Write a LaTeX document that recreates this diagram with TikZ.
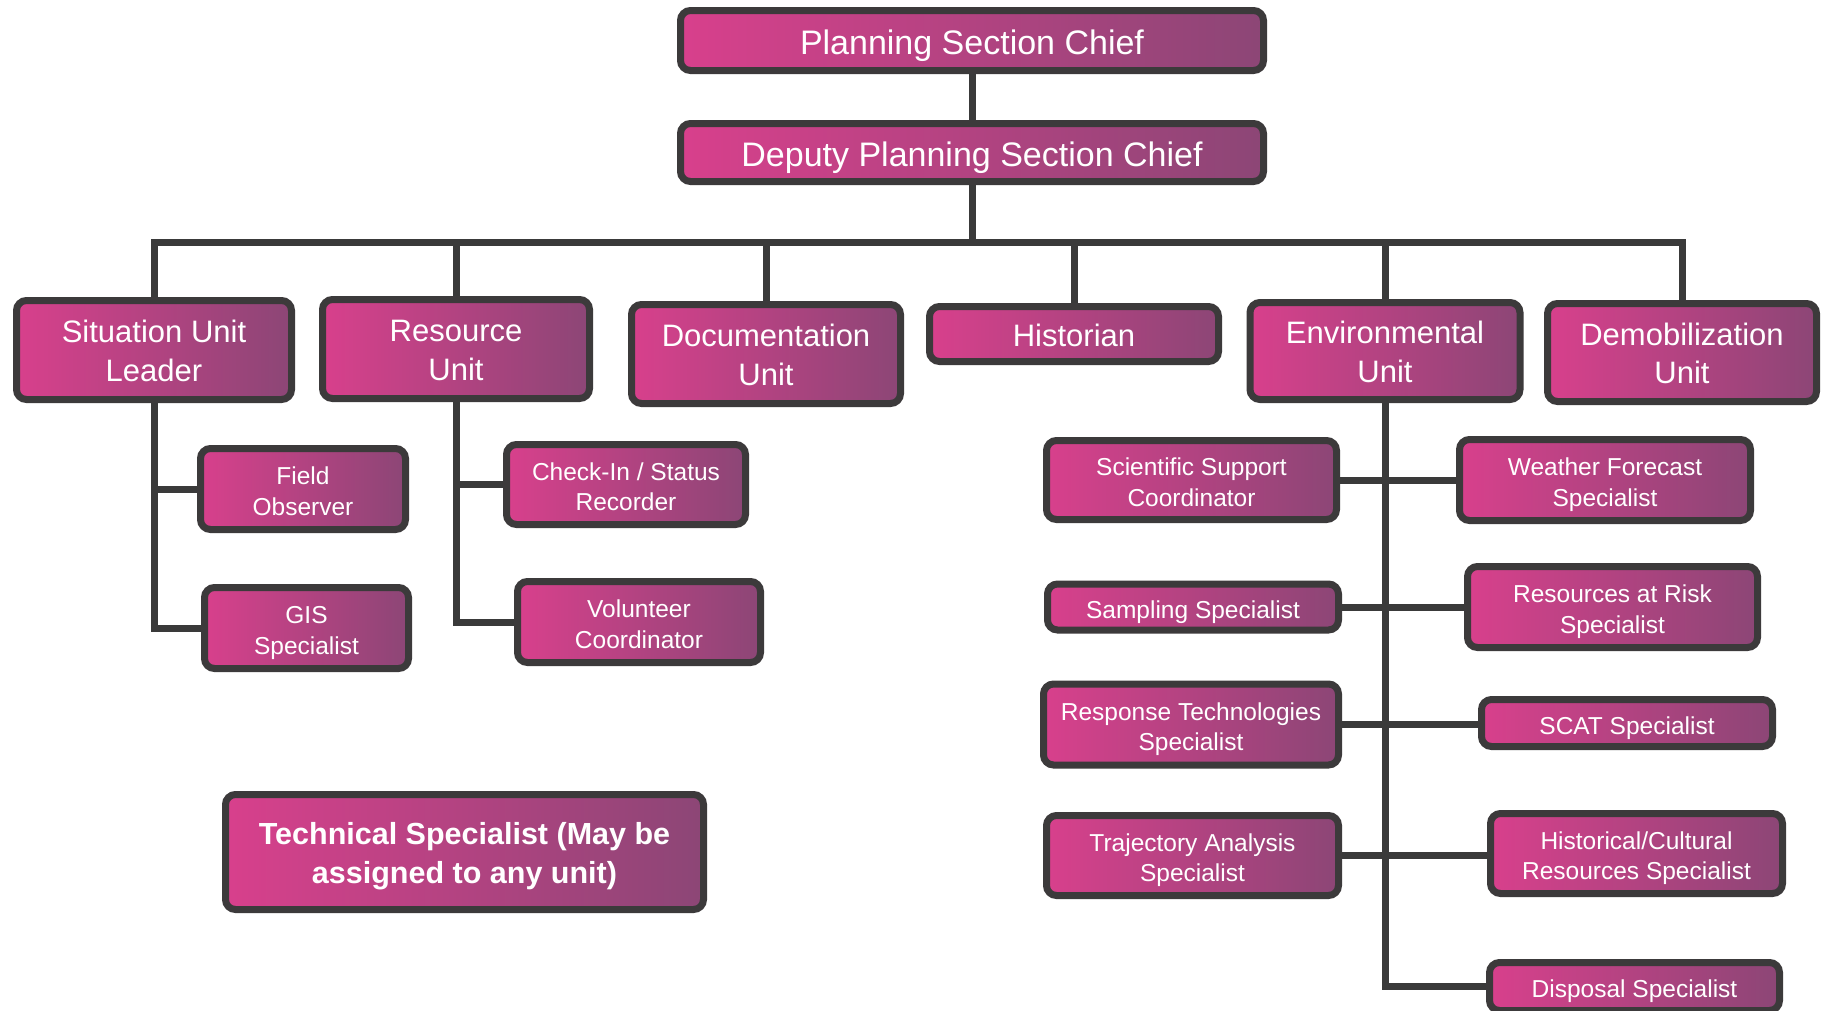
\documentclass[tikz,border=0pt]{standalone}
\usepackage{fontspec}
\setmainfont{Liberation Sans}
\usetikzlibrary{backgrounds}
\definecolor{boxleft}{HTML}{D8408C}
\definecolor{boxmid}{HTML}{C4408A}
\definecolor{boxright}{HTML}{8C4676}
\definecolor{edge}{HTML}{3C3A3B}
\definecolor{wirec}{HTML}{3A3A3A}
% centred block of lines, lowered a little so the capitals sit mid-box
\newcommand\boxlines[1]{\raisebox{-\txtdrop}[\height][\depth]{\begin{tabular}{@{}c@{}}#1\end{tabular}}}
\begin{document}
\begin{tikzpicture}[x=1pt,y=-1pt,
  orgbox/.style={draw=edge, line width=7pt, rounded corners=10pt,
    left color=boxleft, middle color=boxmid, right color=boxright,
    text=white, inner sep=0pt},
  size/.style 2 args={minimum width=#1pt-7pt, minimum height=#2pt-7pt},
  bigtxt/.style={font=\fontsize{34}{40}\selectfont, execute at begin node={\def\txtdrop{5.5pt}}},
  unittxt/.style={font=\fontsize{31}{38.5}\selectfont, execute at begin node={\def\txtdrop{4.5pt}}},
  smalltxt/.style={font=\fontsize{24.5}{30.5}\selectfont, execute at begin node={\def\txtdrop{5pt}}},
  boldtxt/.style={font=\fontsize{30.5}{38.5}\selectfont\bfseries, execute at begin node={\def\txtdrop{4.2pt}}},
  wire/.style={draw=wirec, line width=7pt}
]
\useasboundingbox (0,0) rectangle (1821,1010);
\clip (0,0) rectangle (1821,1010);

% section command
\node[orgbox, bigtxt, size={590}{67}] (psc)  at (972,40.5)  {\boxlines{Planning Section Chief}};
\node[orgbox, bigtxt, size={590}{65}] (dpsc) at (972,152.5) {\boxlines{Deputy Planning Section Chief}};

% units
\node[orgbox, unittxt, size={282}{106}] (sit)   at (154,350)  {\boxlines{Situation Unit\\Leader}};
\node[orgbox, unittxt, size={274}{106}] (res)   at (456,349)  {\boxlines{Resource\\Unit}};
\node[orgbox, unittxt, size={276}{106}] (doc)   at (766,354)  {\boxlines{Documentation\\Unit}};
\node[orgbox, unittxt, size={296}{62}]  (hist)  at (1074,334) {\boxlines{Historian}};
\node[orgbox, unittxt, size={277}{104}] (env)   at (1385,351) {\boxlines{Environmental\\Unit}};
\node[orgbox, unittxt, size={276}{105}] (demob) at (1682,352.5) {\boxlines{Demobilization\\Unit}};

% situation unit staff
\node[orgbox, smalltxt, size={212}{88}] (fo)  at (303,489)   {\boxlines{Field\\Observer}};
\node[orgbox, smalltxt, size={211}{88}] (gis) at (306.5,628) {\boxlines{GIS\\Specialist}};

% resource unit staff
\node[orgbox, smalltxt, size={246}{87}] (chk) at (626,484.5) {\boxlines{Check-In / Status\\Recorder}};
\node[orgbox, smalltxt, size={250}{88}] (vol) at (639,622)   {\boxlines{Volunteer\\Coordinator}};

% technical specialist note
\node[orgbox, boldtxt, size={485}{122}] (tech) at (464.5,852) {\boxlines{Technical Specialist (May be\\assigned to any unit)}};

% environmental unit staff, left column
\node[orgbox, smalltxt, size={297}{86}] (ssc)  at (1191.5,480) {\boxlines{Scientific Support\\Coordinator}};
\node[orgbox, smalltxt, size={298}{53}] (samp) at (1193,607)   {\boxlines{Sampling Specialist}};
\node[orgbox, smalltxt, size={302}{88}] (rts)  at (1191,724.5) {\boxlines{Response Technologies\\Specialist}};
\node[orgbox, smalltxt, size={299}{87}] (tas)  at (1192.5,855.5) {\boxlines{Trajectory Analysis\\Specialist}};

% environmental unit staff, right column
\node[orgbox, smalltxt, size={298}{88}] (wfs)  at (1605,480)    {\boxlines{Weather Forecast\\Specialist}};
\node[orgbox, smalltxt, size={297}{88}] (rar)  at (1612.5,607)  {\boxlines{Resources at Risk\\Specialist}};
\node[orgbox, smalltxt, size={298}{54}] (scat) at (1627,723)    {\boxlines{SCAT Specialist}};
\node[orgbox, smalltxt, size={299}{87}] (hcr)  at (1636.5,853.5) {\boxlines{Historical/Cultural\\Resources Specialist}};
\node[orgbox, smalltxt, size={297}{55}] (disp) at (1634.5,986.5) {\boxlines{Disposal Specialist}};

\coordinate (bus) at (972,242);

\begin{scope}[on background layer]
  \fill[white] (0,0) rectangle (1821,1010);
  % chain of command
  \draw[wire] (psc.south) -- (dpsc.north);
  \draw[wire] (dpsc.south) -- (bus);
  \draw[wire] (sit.north) |- (bus) -| (demob.north);
  \draw[wire] (res.north) -- (res.north |- bus);
  \draw[wire] (doc.north) -- (doc.north |- bus);
  \draw[wire] (hist.north) -- (hist.north |- bus);
  \draw[wire] (env.north) -- (env.north |- bus);

  % situation unit
  \draw[wire] (sit.south) |- (gis.west);
  \draw[wire] (sit.south |- fo.west) -- (fo.west);

  % resource unit
  \draw[wire] (res.south) |- (vol.west);
  \draw[wire] (res.south |- chk.west) -- (chk.west);

  % environmental unit
  \draw[wire] (env.south) |- (disp.west);
  \draw[wire] (ssc.east) -- (ssc.east -| wfs.west);
  \draw[wire] (samp.east) -- (samp.east -| rar.west);
  \draw[wire] (rts.east) -- (rts.east -| scat.west);
  \draw[wire] (tas.east) -- (tas.east -| hcr.west);
\end{scope}
\end{tikzpicture}
\end{document}
